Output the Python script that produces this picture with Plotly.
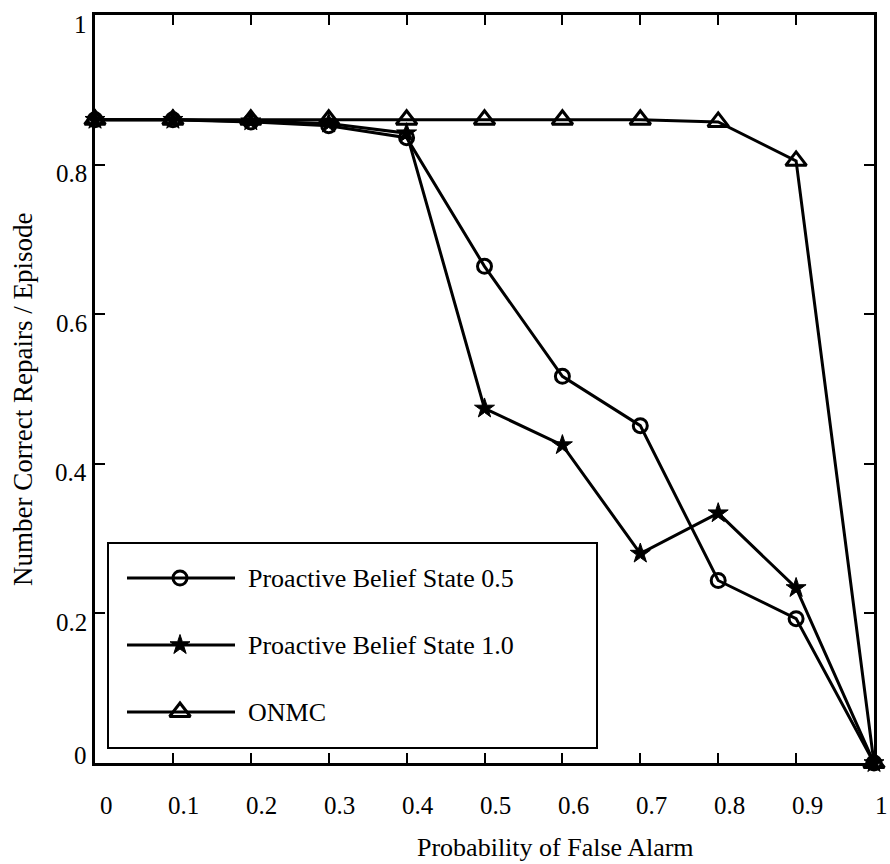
import plotly.graph_objects as go

# ---- data ----
false_alarm = [0.0, 0.1, 0.2, 0.3, 0.4, 0.5, 0.6, 0.7, 0.8, 0.9, 1.0]
pbs_05 = [0.86, 0.86, 0.857, 0.852, 0.836, 0.664, 0.517, 0.451, 0.244, 0.193, 0.0]
pbs_10 = [0.86, 0.86, 0.858, 0.855, 0.842, 0.474, 0.425, 0.280, 0.334, 0.234, 0.0]
onmc = [0.86, 0.86, 0.86, 0.86, 0.86, 0.86, 0.86, 0.86, 0.857, 0.805, 0.0]

series_names = ["Proactive Belief State 0.5", "Proactive Belief State 1.0", "ONMC"]
x_ticks = [0, 0.1, 0.2, 0.3, 0.4, 0.5, 0.6, 0.7, 0.8, 0.9, 1]
x_tick_text = ["0", "0.1", "0.2", "0.3", "0.4", "0.5", "0.6", "0.7", "0.8", "0.9", "1"]
y_ticks = [0, 0.2, 0.4, 0.6, 0.8, 1]
y_tick_text = ["0", "0.2", "0.4", "0.6", "0.8", "1"]

FONT = "Liberation Serif, Times New Roman, serif"
W, H = 890, 864
ML, MR, MT, MB = 95, 16, 15, 101
PW, PH = W - ML - MR, H - MT - MB


def px_x(p):
    return (p - ML) / PW


def px_y(p):
    return (H - MB - p) / PH


styles = [
    dict(symbol="circle-open", size=14, line=dict(width=3, color="black")),
    dict(symbol="star", size=15, line=dict(width=1, color="black")),
    dict(symbol="triangle-up-open", size=18, line=dict(width=3, color="black")),
]
all_series = [pbs_05, pbs_10, onmc]

fig = go.Figure()
for name, ys, st in zip(series_names, all_series, styles):
    fig.add_trace(go.Scatter(
        x=false_alarm, y=ys, name=name, mode="lines+markers",
        line=dict(color="black", width=3), marker=dict(color="black", **st),
        cliponaxis=False, showlegend=False))

# ---- custom legend (box, sample lines, markers, text) ----
legend_rows_px = [578, 645, 712]
fig.add_shape(type="rect", xref="paper", yref="paper",
              x0=px_x(108), x1=px_x(597), y0=px_y(748), y1=px_y(543),
              line=dict(color="black", width=2), fillcolor="white", layer="below")
for row, name, st in zip(legend_rows_px, series_names, styles):
    fig.add_shape(type="line", xref="paper", yref="paper",
                  x0=px_x(127), x1=px_x(235), y0=px_y(row), y1=px_y(row),
                  line=dict(color="black", width=3), layer="below")
    fig.add_annotation(xref="paper", yref="paper", x=px_x(246), y=px_y(row),
                       text=name, showarrow=False, xanchor="left", yanchor="middle",
                       font=dict(family=FONT, size=26, color="black"))
    fig.add_trace(go.Scatter(
        x=[px_x(180)], y=[px_y(row)], mode="markers", showlegend=False,
        marker=dict(color="black", **st), cliponaxis=False, hoverinfo="skip"))

# ---- tick labels ----
for v, t in zip(x_ticks, x_tick_text):
    fig.add_annotation(x=v, y=0, xref="x", yref="paper", text=t, showarrow=False,
                       xanchor="center", yanchor="middle",
                       xshift=(7 if v == 1 else 11), yshift=-42,
                       font=dict(family=FONT, size=25, color="black"))
for v, t in zip(y_ticks, y_tick_text):
    fig.add_annotation(x=0, y=v, xref="paper", yref="y", text=t, showarrow=False,
                       xanchor="right", yanchor="middle", xshift=-6,
                       yshift=(8 if v == 0 else -9),
                       font=dict(family=FONT, size=25, color="black"))

fig.add_annotation(x=px_x(555), y=0, xref="paper", yref="paper",
                   text="Probability of False Alarm", showarrow=False,
                   xanchor="center", yanchor="middle", yshift=-84,
                   font=dict(family=FONT, size=26, color="black"))
fig.add_annotation(x=0, y=px_y(400), xref="paper", yref="paper",
                   text="Number Correct Repairs / Episode", showarrow=False,
                   textangle=-90, xanchor="center", yanchor="middle", xshift=-72,
                   font=dict(family=FONT, size=27, color="black"))

axis_common = dict(showgrid=False, zeroline=False, showline=True, linecolor="black",
                   linewidth=3, mirror="ticks", ticks="inside", ticklen=10,
                   tickwidth=2, tickcolor="black", showticklabels=False)
fig.update_xaxes(range=[0, 1], tickvals=x_ticks, **axis_common)
fig.update_yaxes(range=[0, 1], tickvals=y_ticks, **axis_common)

fig.update_layout(width=W, height=H, margin=dict(l=ML, r=MR, t=MT, b=MB),
                  plot_bgcolor="white", paper_bgcolor="white",
                  font=dict(family=FONT, color="black"), showlegend=False)

fig.write_html("out.html", config={"displayModeBar": False},
               post_script="document.body.style.margin='0';"
                           "document.body.style.overflow='hidden';")
